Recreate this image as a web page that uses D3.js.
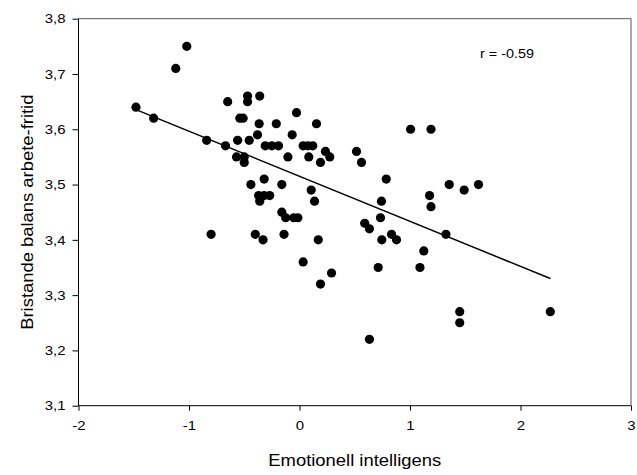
<!DOCTYPE html>
<html>
<head>
<meta charset="utf-8">
<script src="https://cdn.jsdelivr.net/npm/d3@7"></script>
<style>
  body { margin: 0; background: #fff; }
  text { font-family: Arial, "Liberation Sans", sans-serif; }
</style>
</head>
<body>
<div id="chart"></div>
<script>
// emotional intelligence (x) vs lacking work-life balance (y)
var xValues = [-1.48, -1.32, -1.12, -1.02, -0.84, -0.80, -0.67, -0.65, -0.56, -0.54,
               -0.51, -0.57, -0.50, -0.50, -0.47, -0.47, -0.455, -0.44, -0.38, -0.365,
               -0.36, -0.31, -0.25, -0.19, -0.32, -0.37, -0.32, -0.27, -0.36, -0.40,
               -0.33, -0.21, -0.16, -0.105, -0.066, -0.027, -0.16, -0.125, -0.052, -0.015,
               -0.14, 0.033, 0.033, 0.075, 0.12, 0.084, 0.106, 0.136, 0.154, 0.19,
               0.235, 0.274, 0.17, 0.19, 0.29, 0.516, 0.561, 0.785, 1.005, 1.19,
               1.355, 1.49, 1.62, 1.177, 1.19, 0.742, 0.733, 0.59, 0.633, 0.745,
               0.833, 0.878, 1.325, 1.125, 1.09, 0.712, 1.45, 1.45, 2.27, 0.633];
var yValues = [3.64, 3.62, 3.71, 3.75, 3.58, 3.41, 3.57, 3.65, 3.58, 3.62,
               3.62, 3.55, 3.55, 3.54, 3.66, 3.65, 3.58, 3.50, 3.59, 3.61,
               3.66, 3.57, 3.57, 3.57, 3.51, 3.48, 3.48, 3.48, 3.47, 3.41,
               3.40, 3.61, 3.50, 3.55, 3.59, 3.63, 3.45, 3.44, 3.44, 3.44,
               3.41, 3.36, 3.57, 3.57, 3.57, 3.55, 3.49, 3.47, 3.61, 3.54,
               3.56, 3.55, 3.40, 3.32, 3.34, 3.56, 3.54, 3.51, 3.60, 3.60,
               3.50, 3.49, 3.50, 3.48, 3.46, 3.47, 3.44, 3.43, 3.42, 3.40,
               3.41, 3.40, 3.41, 3.38, 3.35, 3.35, 3.27, 3.25, 3.27, 3.22];
var xTicks = [-2, -1, 0, 1, 2, 3];
var yTicks = [3.1, 3.2, 3.3, 3.4, 3.5, 3.6, 3.7, 3.8];
var fitIntercept = 3.515;
var fitSlope = -0.0815;
var rLabel = "r = -0.59";

var width = 637, height = 475;
var plotLeft = 78.5, plotRight = 631, plotTop = 18.7, plotBottom = 405.7;
var stretch = 1.15; // text in the original is drawn a bit wide

var svg = d3.select("#chart").append("svg")
    .attr("width", width)
    .attr("height", height);

var x = d3.scaleLinear().domain([-2, 3]).range([plotLeft, plotRight]);
var y = d3.scaleLinear().domain([3.1, 3.8]).range([plotBottom, plotTop]);

var comma = function(d){ return d3.format(".1f")(d).replace(".", ","); };
var plain = function(d){ return String(d); };

// frame: top and right
svg.append("line")
    .attr("x1", plotLeft).attr("x2", plotRight).attr("y1", plotTop).attr("y2", plotTop)
    .attr("stroke", "#555").attr("stroke-width", 1);
svg.append("line")
    .attr("x1", plotRight).attr("x2", plotRight).attr("y1", plotTop).attr("y2", plotBottom)
    .attr("stroke", "#555").attr("stroke-width", 1);

var xAxis = svg.append("g")
    .attr("transform", "translate(0," + plotBottom + ")")
    .call(d3.axisBottom(x).tickValues(xTicks).tickSize(5).tickPadding(10.5).tickFormat(plain));
var yAxis = svg.append("g")
    .attr("transform", "translate(" + plotLeft + ",0)")
    .call(d3.axisLeft(y).tickValues(yTicks).tickSize(6).tickPadding(7).tickFormat(comma));

[xAxis, yAxis].forEach(function(a){
    a.select(".domain").attr("stroke", "#000");
    a.selectAll(".tick line").attr("stroke", "#000");
    a.selectAll(".tick text").attr("font-size", 13).attr("fill", "#000")
        .style("font-family", "Arial, 'Liberation Sans', sans-serif");
});
xAxis.select(".domain").attr("d", "M" + plotLeft + ",0H" + plotRight);
yAxis.select(".domain").attr("d", "M0," + plotBottom + "V" + plotTop);

// points
svg.append("g").selectAll("circle")
    .data(xValues)
    .enter().append("circle")
    .attr("cx", function(d){ return x(d); })
    .attr("cy", function(d, i){ return y(yValues[i]); })
    .attr("r", 4.6)
    .attr("fill", "#000");

// regression line
var ext = d3.extent(xValues);
svg.append("line")
    .attr("x1", x(ext[0])).attr("y1", y(fitIntercept + fitSlope * ext[0]))
    .attr("x2", x(ext[1])).attr("y2", y(fitIntercept + fitSlope * ext[1]))
    .attr("stroke", "#000")
    .attr("stroke-width", 1.5);

svg.append("text")
    .text(rLabel)
    .attr("x", 534)
    .attr("y", 58.3)
    .attr("text-anchor", "end")
    .attr("font-size", 12.5)
    .attr("fill", "#000");

svg.append("text")
    .text("Emotionell intelligens")
    .attr("x", (plotLeft + plotRight) / 2)
    .attr("y", 466)
    .attr("text-anchor", "middle")
    .attr("font-size", 16)
    .attr("fill", "#000");

svg.append("text")
    .text("Bristande balans arbete-fritid")
    .attr("transform", "translate(32.5," + ((plotTop + plotBottom) / 2) + ") rotate(-90)")
    .attr("text-anchor", "middle")
    .attr("font-size", 16)
    .attr("fill", "#000");

// widen every text along its own direction
svg.selectAll("text").each(function(){
    var len = this.getComputedTextLength();
    d3.select(this)
        .attr("textLength", len * stretch)
        .attr("lengthAdjust", "spacingAndGlyphs");
});
</script>
</body>
</html>
